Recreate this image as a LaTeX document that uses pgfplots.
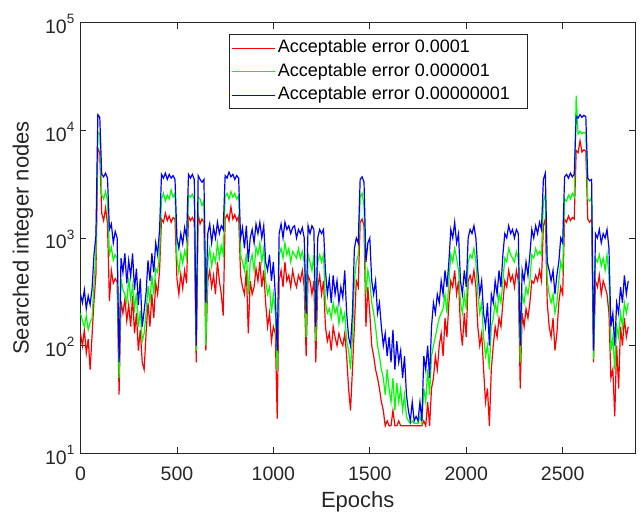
\documentclass[border=0pt]{standalone}
\usepackage{fontspec}
\setmainfont{Liberation Sans}
\usepackage{pgfplots}
\usepackage{pgfplotstable}
\pgfplotsset{compat=1.18}
\definecolor{axgray}{RGB}{38,38,38}
\newcommand\bigfnt{\fontsize{18}{21.6}\selectfont}
\newcommand\tickfnt{\fontsize{19.5}{23}\selectfont}
\newcommand\labfnt{\fontsize{22}{26}\selectfont}
\newcommand\pw[1]{10\raisebox{0.95ex}{\fontsize{13.5}{15}\selectfont #1}}

% epoch, nodes for error 1e-8 (b), 1e-6 (g), 1e-4 (r)
\pgfplotstableread{
x b g r
0 300 200 130
10 250 170 100
20 330 150 140
30 220 190 85
40 290 140 115
50 240 165 60
60 340 180 125
70 700 380 260
80 1050 720 460
90 14000 9600 6800
100 13200 9200 6200
110 3900 2500 1700
120 3700 2300 1450
130 4000 2700 1900
140 3600 2200 1350
150 1200 700 260
160 1350 820 500
170 900 620 380
180 1150 700 420
190 1000 650 390
200 70 50 35
210 650 420 260
220 480 330 200
230 720 300 270
240 380 250 170
250 620 430 240
260 440 270 150
270 720 360 290
280 330 220 130
290 520 310 200
300 240 150 90
310 420 210 140
320 150 110 70
330 210 130 60
340 310 200 130
350 620 360 250
360 400 250 150
370 720 450 300
380 480 300 180
390 900 520 380
400 700 480 300
410 1200 720 500
420 3900 2300 1500
430 3600 2600 1400
440 4000 2200 1700
450 3500 2500 1450
460 3900 2300 1600
470 3600 2800 1400
480 3800 2400 1550
490 3500 2600 1500
500 1000 650 420
510 800 480 300
520 1100 720 460
530 880 580 340
540 1250 760 500
550 1000 640 380
560 3900 2500 1600
570 3600 2400 1450
580 3900 2550 1550
590 3500 2300 1400
600 100 90 70
610 3800 2400 1650
620 3500 2300 1350
630 3300 2000 1500
640 3500 2200 1400
650 250 100 90
660 1100 600 400
670 1350 800 500
680 900 550 350
690 1250 700 450
700 1000 600 300
710 1400 900 600
720 1100 650 400
730 1300 850 300
740 1200 700 190
750 3800 2400 1500
760 3600 2600 1650
770 4100 2300 1450
780 3700 2700 1950
790 3900 2400 1500
800 3500 2600 1650
810 3800 2300 1450
820 3600 2500 1600
830 1000 700 450
840 1250 600 350
850 800 500 300
860 1300 720 500
870 600 300 130
880 1000 600 400
890 1200 700 300
900 900 500 350
910 1350 820 520
920 1100 700 400
930 1400 900 600
940 1000 600 350
950 1300 800 500
960 600 400 250
970 500 300 150
980 700 350 200
990 400 200 110
1000 600 300 150
1010 300 200 130
1020 90 60 21
1030 1100 700 400
1040 1350 800 500
1050 1000 650 350
1060 1400 900 600
1070 1200 700 400
1080 1300 800 450
1090 1100 600 350
1100 1250 750 500
1110 1300 700 400
1120 1000 650 350
1130 1200 800 450
1140 1100 650 400
1150 1250 750 500
1160 1000 600 350
1170 200 120 80
1180 1300 700 450
1190 1100 600 400
1200 1300 500 300
1210 1200 700 400
1220 150 110 70
1230 1000 600 350
1240 1200 700 450
1250 1100 600 300
1260 1200 700 400
1270 500 250 150
1280 300 200 110
1290 420 220 130
1300 250 180 90
1310 450 250 150
1320 300 200 120
1330 400 230 100
1340 250 160 130
1350 350 220 110
1360 280 170 100
1370 500 200 130
1380 200 110 80
1390 120 90 40
1400 100 60 25
1410 200 120 60
1420 800 400 150
1430 1000 600 400
1440 900 700 350
1450 3500 2400 1400
1460 3700 2600 1500
1470 3300 2000 1300
1480 600 300 150
1490 900 500 350
1500 1000 400 200
1510 400 250 100
1520 300 200 80
1530 400 150 60
1540 200 100 50
1550 250 80 40
1560 150 60 30
1570 100 50 25
1580 130 35 18
1590 80 60 20
1600 120 40 18
1610 70 30 18
1620 140 50 25
1630 60 25 18
1640 110 45 18
1650 70 30 20
1660 90 40 18
1670 50 25 18
1680 80 35 18
1690 35 22 18
1700 25 20 18
1710 20 19 18
1720 30 20 18
1730 20 19 18
1740 22 19 18
1750 20 19 18
1760 30 22 18
1770 20 19 18
1780 80 40 20
1790 60 30 18
1800 100 60 30
1810 50 35 18
1820 150 80 40
1830 250 100 50
1840 200 120 80
1850 300 150 60
1860 250 180 100
1870 400 200 130
1880 300 220 80
1890 500 300 180
1900 350 200 120
1910 600 400 250
1920 1200 700 400
1930 1000 600 350
1940 1400 800 500
1950 900 650 300
1960 1100 500 400
1970 400 250 150
1980 300 200 100
1990 500 300 200
2000 350 220 120
2010 1000 600 400
2020 1200 700 450
2030 1100 650 380
2040 1300 800 500
2050 1000 600 350
2060 500 300 150
2070 300 200 100
2080 400 250 130
2090 200 120 60
2100 150 80 30
2110 250 100 40
2120 100 60 18
2130 300 150 60
2140 250 180 100
2150 400 250 150
2160 300 200 120
2170 500 300 180
2180 350 250 150
2190 700 400 250
2200 1100 650 400
2210 1000 600 350
2220 1300 800 500
2230 1100 700 400
2240 1200 650 450
2250 1000 600 350
2260 1200 750 500
2270 1100 650 400
2280 100 70 40
2290 500 300 200
2300 400 250 150
2310 600 350 220
2320 450 300 180
2330 700 400 250
2340 1200 700 400
2350 1000 650 380
2360 1300 800 450
2370 1100 700 400
2380 1400 750 500
2390 1200 700 400
2400 3500 2200 1300
2410 4000 2500 1500
2420 600 400 250
2430 500 300 150
2440 400 250 120
2450 500 300 180
2460 300 200 90
2470 450 250 130
2480 600 400 250
2490 1000 600 350
2500 900 500 300
2510 3700 2300 1500
2520 3900 2200 1400
2530 3600 2500 1600
2540 4000 2300 1450
2550 3700 2600 1550
2560 3900 2400 1500
2570 13500 21000 6500
2580 13000 9200 6200
2590 14000 9800 8000
2600 13200 9300 6300
2610 13800 9600 6600
2620 13400 9400 6400
2630 3600 2300 1500
2640 3400 2200 1400
2650 3500 2400 1500
2660 90 75 70
2670 1100 650 400
2680 1000 600 350
2690 1200 700 450
2700 900 550 300
2710 1100 650 400
2720 1000 500 350
2730 1200 700 300
2740 800 450 200
2750 150 90 50
2760 200 120 60
2770 100 60 22
2780 250 150 100
2790 200 120 40
2800 350 200 150
2810 250 150 100
2820 450 250 180
2830 300 200 120
2840 400 250 150
}\nodestab

\begin{document}
\bigfnt
\begin{tikzpicture}
\begin{axis}[
    at={(0,0)}, anchor=south west,
    scale only axis, width=554.5pt, height=430.6pt,
    ymode=log, log basis y=10,
    xmin=0, xmax=2875, ymin=10, ymax=100000,
    xtick={0,500,1000,1500,2000,2500},
    ytick={10,100,1000,10000,100000},
    yticklabels={\pw{1},\pw{2},\pw{3},\pw{4},\pw{5}},
    /pgf/number format/assume math mode=true,
    /pgf/number format/1000 sep={},
    tick align=inside, tick pos=both,
    major tick length=6pt, minor tick length=3.5pt,
    tick style={axgray, line width=0.7pt},
    axis line style={axgray, line width=0.9pt},
    tick label style={font=\tickfnt, text=axgray},
    xticklabel style={anchor=base, yshift=-27.7pt},
    yticklabel style={anchor=east, yshift=-1.3pt},
    xlabel={Epochs},
    ylabel={Searched integer nodes},
    label style={font=\labfnt, text=axgray, inner sep=0pt},
    xlabel style={at={(axis description cs:0.5,-0.127)}, anchor=base},
    ylabel style={at={(axis description cs:-0.0851,0.5)}, anchor=south},
    legend cell align=left,
    legend image code/.code={\draw[#1, line width=0.9pt] (0pt,0pt) -- (43pt,0pt);},
    legend style={at={(0.2671,0.973)}, anchor=north west,
        draw=axgray, line width=0.5pt, fill=white, font=\bigfnt,
        inner xsep=3pt, inner ysep=5pt, row sep=6.5pt,
        nodes={inner xsep=2pt, inner ysep=0pt, text height=13pt, text depth=4pt}},
    every axis plot/.append style={line width=1.2pt, no markers},
]
\addplot[red] table[x=x, y=r] {\nodestab};
\addlegendentry{Acceptable error 0.0001}
\addplot[green] table[x=x, y=g] {\nodestab};
\addlegendentry{Acceptable error 0.000001}
\addplot[blue] table[x=x, y=b] {\nodestab};
\addlegendentry{Acceptable error 0.00000001\hspace*{12pt}}
\end{axis}
\pgfresetboundingbox
\path (-80.5pt,-60.7pt) rectangle (559.5pt,453.3pt);
\end{tikzpicture}
\end{document}
